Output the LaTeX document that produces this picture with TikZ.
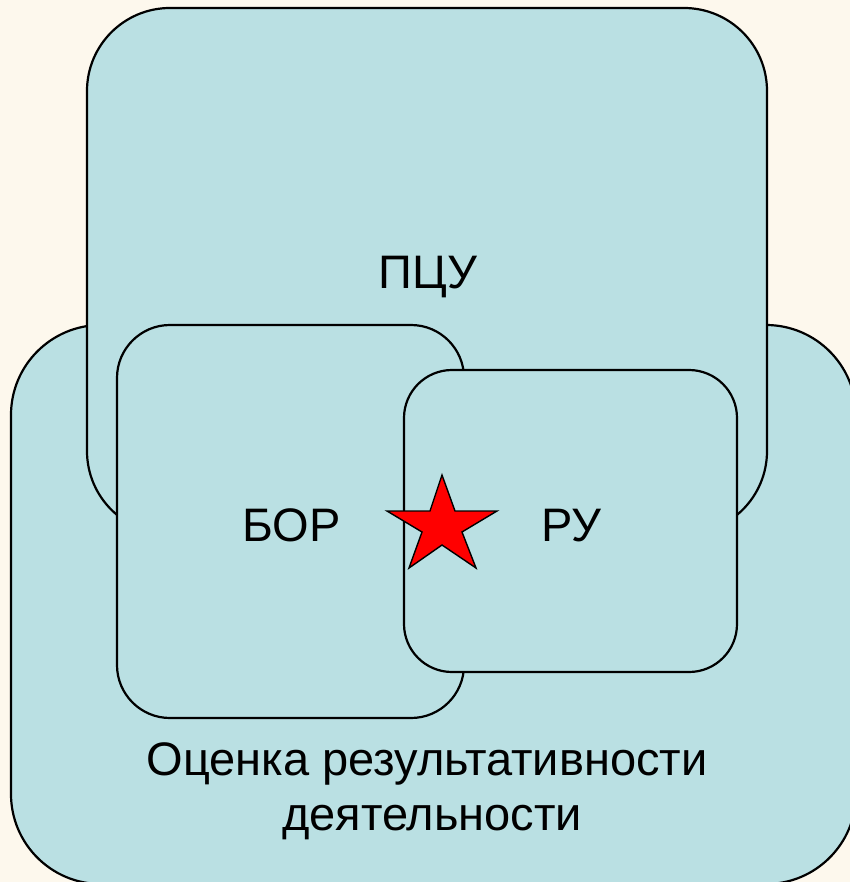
\documentclass[tikz,border=0pt]{standalone}
\usepackage{fontspec}
\setmainfont{Liberation Sans}
\definecolor{bgcream}{RGB}{253,248,237}
\definecolor{boxfill}{RGB}{186,224,227}
\definecolor{starred}{RGB}{255,0,0}
\begin{document}
\begin{tikzpicture}[x=1bp,y=-1bp,
  region/.style={draw=black,line width=2.2bp,fill=boxfill,inner sep=0pt,outer sep=0pt,shape=rectangle},
  lbl/.style={font=\fontsize{47bp}{56bp}\selectfont,inner sep=0pt,anchor=base,text=black}]
\useasboundingbox[fill=bgcream] (0,0) rectangle (850,882);
\begin{scope}
\clip (0,0) rectangle (850,882);
\node[region,rounded corners=90bp,minimum width=845bp,minimum height=559bp] (ocenka) at (433.5,604.5) {};
\node[region,rounded corners=83bp,minimum width=680bp,minimum height=526bp] (pcu) at (427,271) {};
\node[region,rounded corners=53bp,minimum width=347bp,minimum height=393bp] (bor) at (290.5,521.5) {};
\node[region,rounded corners=48bp,minimum width=333bp,minimum height=302bp] (ru) at (570.5,521) {};
\end{scope}
\draw[fill=starred,draw=black,line width=1.4bp,line join=miter]
  (442,475) -- (455,511) -- (497,511) -- (462,532) -- (476,568) -- (442,545)
  -- (409,568) -- (422,532) -- (387,511) -- (430,511) -- cycle;
\node[lbl] (pcutext) at (428,288) {ПЦУ};
\node[lbl] (bortext) at (291.5,541) {БОР};
\node[lbl] (rutext) at (571.5,541) {РУ};
\node[lbl] (ocenkatext1) at (427,775) {Оценка результативности};
\node[lbl] (ocenkatext2) at (432,830) {деятельности};
\end{tikzpicture}
\end{document}
